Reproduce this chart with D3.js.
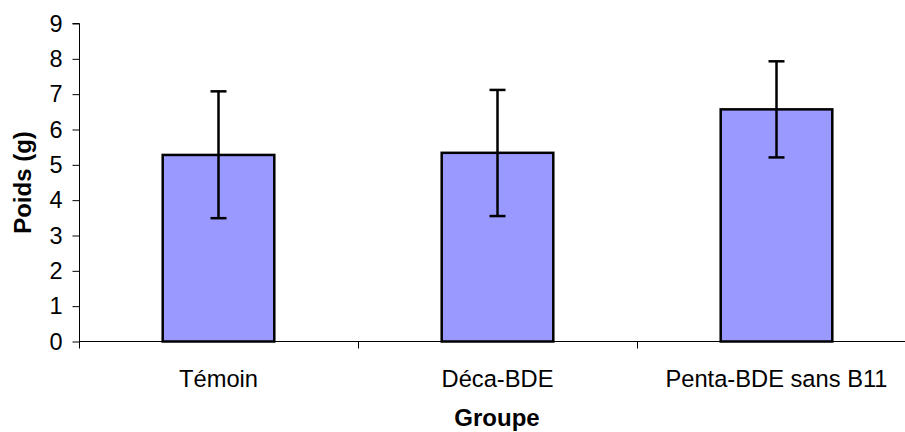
<!DOCTYPE html>
<html>
<head>
<meta charset="utf-8">
<script src="https://cdn.jsdelivr.net/npm/d3@7/dist/d3.min.js"></script>
<style>
  html, body { margin: 0; padding: 0; background: #fff; }
  svg { display: block; }
  text { font-family: Arial, "Liberation Sans", sans-serif; }
</style>
</head>
<body>
<svg id="chart" width="905" height="432"></svg>
<script>
const categories = ["Témoin", "Déca-BDE", "Penta-BDE sans B11"];
const means = [5.28, 5.34, 6.57];
const errLow = [3.49, 3.55, 5.21];
const errHigh = [7.08, 7.12, 7.93];
const yTicks = [0, 1, 2, 3, 4, 5, 6, 7, 8, 9];
const xTitle = "Groupe";
const yTitle = "Poids (g)";

(function () {
const svg = d3.select("#chart");
const mLeft = 79, mRight = 916, mTop = 23.5, mBottom = 341.5;

const x = d3.scaleBand().domain(categories).range([mLeft, mRight]).padding(0);
const y = d3.scaleLinear().domain([0, 9]).range([mBottom, mTop]);
const barW = x.bandwidth() * 0.4;

// bars
svg.append("g").selectAll("rect").data(categories).join("rect")
  .attr("x", (d) => x(d) + x.bandwidth() / 2 - barW / 2)
  .attr("y", (d, i) => y(means[i]))
  .attr("width", barW)
  .attr("height", (d, i) => y(0) - y(means[i]))
  .attr("fill", "#9999FF")
  .attr("stroke", "#000")
  .attr("stroke-width", 2.5);

// error bars
const eb = svg.append("g").attr("stroke", "#000").attr("stroke-width", 2.5);
categories.forEach((c, i) => {
  const cx = x(c) + x.bandwidth() / 2;
  eb.append("line").attr("x1", cx).attr("x2", cx).attr("y1", y(errLow[i])).attr("y2", y(errHigh[i]));
  eb.append("line").attr("x1", cx - 8).attr("x2", cx + 8).attr("y1", y(errLow[i])).attr("y2", y(errLow[i]));
  eb.append("line").attr("x1", cx - 8).attr("x2", cx + 8).attr("y1", y(errHigh[i])).attr("y2", y(errHigh[i]));
});

// y axis
const yAxis = d3.axisLeft(y).tickValues(yTicks).tickSize(7).tickPadding(10).tickFormat(d3.format("d"));
const yg = svg.append("g").attr("transform", `translate(${mLeft + 0.5},0)`).call(yAxis);
yg.select(".domain").attr("stroke", "#000").attr("d", `M-7,${mTop}H0V${mBottom}`);
yg.selectAll(".tick line").attr("stroke", "#000");
yg.selectAll("text").attr("font-size", 23.5).attr("fill", "#000")
  .attr("font-family", "Arial, 'Liberation Sans', sans-serif");

// x axis
const xg = svg.append("g");
xg.append("line").attr("x1", mLeft).attr("x2", mRight).attr("y1", mBottom).attr("y2", mBottom)
  .attr("stroke", "#000").attr("stroke-width", 1);
const boundaries = categories.map((c) => x(c)).concat([mRight]);
xg.selectAll("line.tk").data(boundaries).join("line").attr("class", "tk")
  .attr("x1", (d) => Math.round(d) + 0.5).attr("x2", (d) => Math.round(d) + 0.5)
  .attr("y1", mBottom).attr("y2", mBottom + 7).attr("stroke", "#000");
xg.selectAll("text").data(categories).join("text")
  .attr("x", (d) => x(d) + x.bandwidth() / 2)
  .attr("y", 386.5)
  .attr("text-anchor", "middle")
  .attr("font-size", 23.7)
  .attr("fill", "#000")
  .text((d) => d);

// titles
svg.append("text").attr("x", 497).attr("y", 426)
  .attr("text-anchor", "middle").attr("font-size", 24).attr("font-weight", "bold").text(xTitle);
svg.append("text").attr("transform", `translate(31,${(mTop + mBottom) / 2}) rotate(-90)`)
  .attr("text-anchor", "middle").attr("font-size", 24).attr("font-weight", "bold").text(yTitle);
})();
</script>
</body>
</html>
